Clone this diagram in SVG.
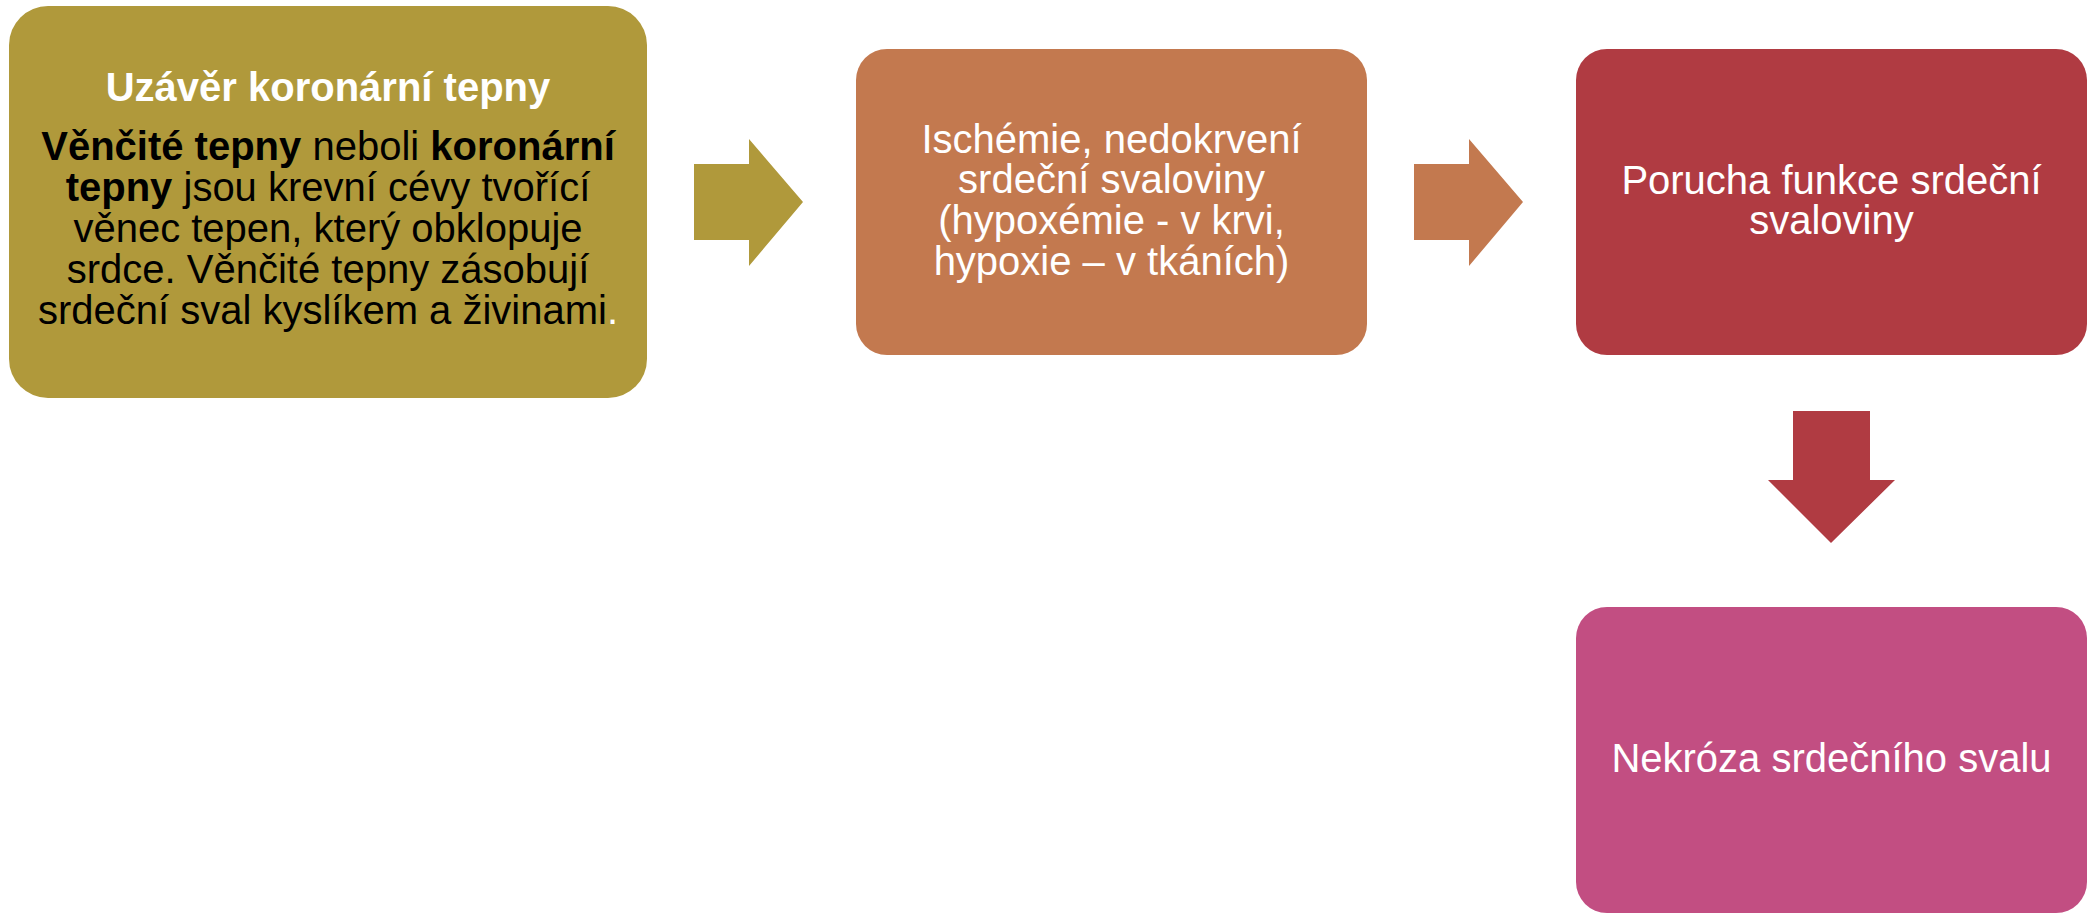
<svg xmlns="http://www.w3.org/2000/svg" width="2093" height="913" viewBox="0 0 2093 913">
<style>
text{font-family:"Liberation Sans",Arial,sans-serif;font-size:40px;text-anchor:middle}
.w{fill:#FFFFFF}
.k{fill:#000000}
.b{font-weight:bold}
</style>
<rect width="2093" height="913" fill="#FFFFFF"/>
<g id="connectors">
<polygon id="arrow1" fill="#B0993B" points="694,164 749,164 749,139 803,202 749,266 749,240 694,240"/>
<polygon id="arrow2" fill="#C3794F" points="1414,164 1469,164 1469,139 1523,202 1469,266 1469,240 1414,240"/>
<polygon id="arrow3" fill="#B03B42" points="1793,411 1870,411 1870,480 1895,480 1831,543 1768,480 1793,480"/>
</g>
<g id="node1">
<rect x="9" y="6" width="638" height="392" rx="39" fill="#B0993B"/>
<text x="328" y="101" class="w b">Uzávěr koronární tepny</text>
<text x="328" y="160" class="k"><tspan class="b">Věnčité tepny</tspan> neboli <tspan class="b">koronární</tspan></text>
<text x="328" y="201" class="k"><tspan class="b">tepny</tspan> jsou krevní cévy tvořící</text>
<text x="328" y="242" class="k">věnec tepen, který obklopuje</text>
<text x="328" y="283" class="k">srdce. Věnčité tepny zásobují</text>
<text x="328" y="324" class="k">srdeční sval kyslíkem a živinami<tspan class="w">.</tspan></text>
</g>
<g id="node2">
<rect x="856" y="49" width="511" height="306" rx="31" fill="#C3794F"/>
<text x="1111.5" y="153" class="w">Ischémie, nedokrvení</text>
<text x="1111.5" y="193" class="w">srdeční svaloviny</text>
<text x="1111.5" y="234" class="w">(hypoxémie - v krvi,</text>
<text x="1111.5" y="275" class="w">hypoxie – v tkáních)</text>
</g>
<g id="node3">
<rect x="1576" y="49" width="511" height="306" rx="31" fill="#B03B42"/>
<text x="1831.5" y="194" class="w">Porucha funkce srdeční</text>
<text x="1831.5" y="234" class="w">svaloviny</text>
</g>
<g id="node4">
<rect x="1576" y="607" width="511" height="306" rx="31" fill="#C24E82"/>
<text x="1831.5" y="772" class="w">Nekróza srdečního svalu</text>
</g>
</svg>
